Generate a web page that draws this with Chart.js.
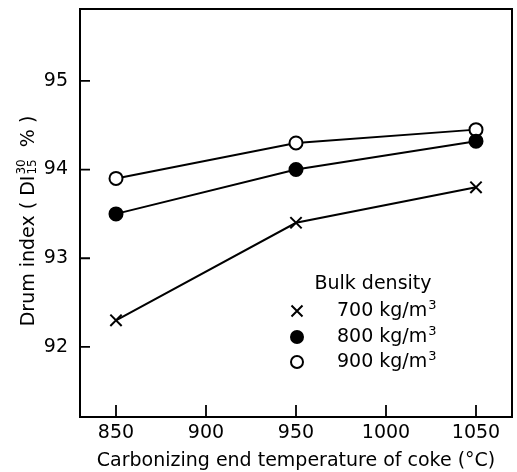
<!DOCTYPE html>
<html>
<head>
<meta charset="utf-8">
<script src="https://cdn.jsdelivr.net/npm/chart.js@4.4.1/dist/chart.umd.min.js"></script>
<style>
  html, body { margin: 0; padding: 0; background: #fff; }
  #wrap { width: 517px; height: 472px; }
</style>
</head>
<body>
<div id="wrap"><canvas id="chart"></canvas></div>
<script>
// carbonizing end temperature (°C)
const temps = [850, 950, 1050];
// drum index DI 30/15 (%) per bulk density
const di700 = [92.3, 93.4, 93.8];
const di800 = [93.5, 94.0, 94.32];
const di900 = [93.9, 94.3, 94.45];

const xTicks = [850, 900, 950, 1000, 1050];
const yTicks = [92, 93, 94, 95];

const legendTitle = 'Bulk density';
const legendLabels = ['700 kg/m', '800 kg/m', '900 kg/m'];

const FONT = '"DejaVu Sans", sans-serif';
const FS = 19;

function pts(ys) {
    return temps.map((t, i) => ({ x: t, y: ys[i] }));
}

// рамка, внутренние засечки, подпись оси Y и легенда
const framePlugin = {
    id: 'frame',
    afterDraw(chart) {
        const { ctx, chartArea: a, scales } = chart;
        ctx.save();
        ctx.strokeStyle = '#000';
        ctx.lineWidth = 2;
        ctx.strokeRect(a.left, a.top, a.right - a.left, a.bottom - a.top);

        ctx.lineWidth = 1.8;
        ctx.beginPath();
        xTicks.forEach(v => {
            const px = scales.x.getPixelForValue(v);
            ctx.moveTo(px, a.bottom);
            ctx.lineTo(px, a.bottom - 12);
        });
        yTicks.forEach(v => {
            const py = scales.y.getPixelForValue(v);
            ctx.moveTo(a.left, py);
            ctx.lineTo(a.left + 10, py);
        });
        ctx.stroke();

        // y title with stacked super/subscript
        ctx.fillStyle = '#000';
        ctx.translate(27, 221);
        ctx.rotate(-Math.PI / 2);
        ctx.textBaseline = 'alphabetic';
        const t1 = 'Drum index ( DI';
        const t2 = '  % )';
        ctx.font = '12px ' + FONT;
        const wSup = ctx.measureText('30').width;
        ctx.font = FS + 'px ' + FONT;
        const w1 = ctx.measureText(t1).width;
        const w2 = ctx.measureText(t2).width;
        let x0 = -(w1 + wSup + 1 + w2) / 2;
        const base = 7;
        ctx.fillText(t1, x0, base);
        ctx.font = '12px ' + FONT;
        ctx.fillText('30', x0 + w1 + 1, base - 9);
        ctx.fillText('15', x0 + w1 + 1, base + 2);
        ctx.font = FS + 'px ' + FONT;
        ctx.fillText(t2, x0 + w1 + wSup + 1, base);
        ctx.setTransform(1, 0, 0, 1, 0, 0);

        // legend
        ctx.font = FS + 'px ' + FONT;
        ctx.textBaseline = 'middle';
        ctx.textAlign = 'center';
        ctx.fillText(legendTitle, 373, 284);
        ctx.textAlign = 'left';
        const rows = [311, 337, 362];
        chart.data.datasets.forEach((ds, i) => {
            const y = rows[i];
            const mx = 297;
            ctx.lineWidth = 2;
            ctx.strokeStyle = '#000';
            if (ds.pointStyle === 'crossRot') {
                ctx.beginPath();
                ctx.moveTo(mx - 5.5, y - 5.5); ctx.lineTo(mx + 5.5, y + 5.5);
                ctx.moveTo(mx + 5.5, y - 5.5); ctx.lineTo(mx - 5.5, y + 5.5);
                ctx.stroke();
            } else {
                ctx.beginPath();
                ctx.arc(mx, y, 6, 0, Math.PI * 2);
                ctx.fillStyle = ds.pointBackgroundColor;
                ctx.fill();
                ctx.stroke();
            }
            ctx.fillStyle = '#000';
            ctx.font = FS + 'px ' + FONT;
            ctx.fillText(legendLabels[i], 337, y);
            const w = ctx.measureText(legendLabels[i]).width;
            ctx.font = '13px ' + FONT;
            ctx.fillText('3', 337 + w + 1, y - 5);
        });
        ctx.restore();
    }
};

function series(label, ys, style, fill) {
    return {
        label: label,
        data: pts(ys),
        borderColor: '#000',
        borderWidth: 2,
        pointStyle: style,
        pointRadius: style === 'crossRot' ? 8 : 6.5,
        pointBorderWidth: 2,
        pointBackgroundColor: fill,
        pointBorderColor: '#000',
        tension: 0
    };
}

new Chart(document.getElementById('chart'), {
    type: 'line',
    data: {
        datasets: [
            series('700 kg/m3', di700, 'crossRot', '#000'),
            series('800 kg/m3', di800, 'circle', '#000'),
            series('900 kg/m3', di900, 'circle', '#fff')
        ]
    },
    options: {
        animation: false,
        responsive: true,
        maintainAspectRatio: false,
        layout: { autoPadding: false, padding: { top: 9, right: 5, left: 0, bottom: 0 } },
        plugins: {
            legend: { display: false },
            tooltip: { enabled: false }
        },
        scales: {
            x: {
                type: 'linear',
                min: 830,
                max: 1070,
                grid: { display: false, drawTicks: false },
                border: { display: false },
                afterBuildTicks: s => { s.ticks = xTicks.map(v => ({ value: v })); },
                afterFit: s => { s.height = 55; s.paddingLeft = 0; s.paddingRight = 0; },
                ticks: {
                    color: '#000',
                    padding: 5,
                    font: { family: FONT, size: FS },
                    callback: v => String(v)
                },
                title: {
                    display: true,
                    text: 'Carbonizing end temperature of coke (°C)',
                    color: '#000',
                    font: { family: FONT, size: FS },
                    padding: { top: 1, bottom: 0 }
                }
            },
            y: {
                min: 91.21,
                max: 95.81,
                grid: { display: false, drawTicks: false },
                border: { display: false },
                afterBuildTicks: s => { s.ticks = yTicks.map(v => ({ value: v })); },
                afterFit: s => { s.width = 80; s.paddingTop = 0; s.paddingBottom = 0; },
                ticks: {
                    color: '#000',
                    padding: 12,
                    font: { family: FONT, size: FS },
                    callback: v => String(v)
                }
            }
        }
    },
    plugins: [framePlugin]
});
</script>
</body>
</html>
